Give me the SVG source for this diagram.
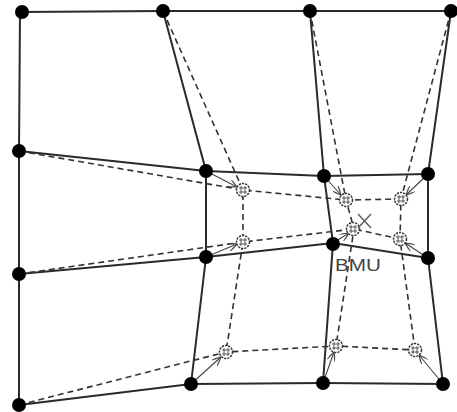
<svg xmlns="http://www.w3.org/2000/svg" width="457" height="412" viewBox="0 0 457 412">
<style>
.s{stroke:#2a2a2a;stroke-width:2;fill:none}
.d{stroke:#333;stroke-width:1.6;fill:none;stroke-dasharray:6 4}
.a{stroke:#444;stroke-width:1.1;fill:none;marker-end:url(#ah)}
.n{fill:#000}
.h{fill:#fff;stroke:#333;stroke-width:1.5;stroke-dasharray:2.2 1}
.hx{stroke:#555;stroke-width:1;fill:none}
.t{font-family:"Liberation Sans",Arial,sans-serif;font-size:17px;fill:#444}
</style>
<defs>
<marker id="ah" viewBox="0 0 10 8" refX="9" refY="4" markerWidth="10" markerHeight="8" markerUnits="userSpaceOnUse" orient="auto">
<path d="M0,0 L9,4 L0,8 M3,1 L9,4 L3,7" fill="none" stroke="#444" stroke-width="1"/>
</marker>
<g id="hn"><circle r="6.5" class="h"/><path class="hx" d="M-4,-2 H4 M-4,2 H4 M-2,-4 V4 M2,-4 V4"/></g>
</defs>
<rect width="457" height="412" fill="#fff"/>
<g id="connectors">
<polyline class="s" points="22,12 163,11 310,11 451,11"/>
<polyline class="s" points="19,151 206,171 324,176 428,174"/>
<polyline class="s" points="19,274 206,257 333,243 428,258"/>
<polyline class="s" points="19,405 191,384 323,383 443,384"/>
<polyline class="s" points="20,12 19,151 19,274 19,405"/>
<polyline class="s" points="163,11 206,171 206,257 191,384"/>
<polyline class="s" points="310,11 324,176 333,243 323,383"/>
<polyline class="s" points="451,11 428,174 428,258 443,384"/>
<polyline class="d" points="19,151 243,190 346,200 401,199"/>
<polyline class="d" points="19,274 243,242 354,229 400,239"/>
<polyline class="d" points="19,405 226,352 336,346 415,350"/>
<polyline class="d" points="163,11 243,190 243,242 226,352"/>
<polyline class="d" points="310,11 346,200 354,229 336,346"/>
<polyline class="d" points="451,11 401,199 400,239 415,350"/>
<line class="a" x1="206" y1="171" x2="237" y2="187"/>
<line class="a" x1="324" y1="176" x2="341" y2="195"/>
<line class="a" x1="428" y1="174" x2="406" y2="195"/>
<line class="a" x1="206" y1="257" x2="237" y2="244"/>
<line class="a" x1="333" y1="243" x2="349" y2="233"/>
<line class="a" x1="428" y1="258" x2="405" y2="243"/>
<line class="a" x1="191" y1="384" x2="221" y2="357"/>
<line class="a" x1="323" y1="383" x2="334" y2="352"/>
<line class="a" x1="443" y1="384" x2="419" y2="355"/>
</g>
<g id="old-nodes">
<circle id="n00" class="n" cx="22" cy="12" r="7"/>
<circle id="n01" class="n" cx="163" cy="11" r="7"/>
<circle id="n02" class="n" cx="310" cy="11" r="7"/>
<circle id="n03" class="n" cx="451" cy="11" r="7"/>
<circle id="n10" class="n" cx="19" cy="151" r="7"/>
<circle id="n11" class="n" cx="206" cy="171" r="7"/>
<circle id="n12" class="n" cx="324" cy="176" r="7"/>
<circle id="n13" class="n" cx="428" cy="174" r="7"/>
<circle id="n20" class="n" cx="19" cy="274" r="7"/>
<circle id="n21" class="n" cx="206" cy="257" r="7"/>
<circle id="n22" class="n" cx="333" cy="244" r="7"/>
<circle id="n23" class="n" cx="428" cy="258" r="7"/>
<circle id="n30" class="n" cx="19" cy="405" r="7"/>
<circle id="n31" class="n" cx="191" cy="384" r="7"/>
<circle id="n32" class="n" cx="323" cy="383" r="7"/>
<circle id="n33" class="n" cx="443" cy="384" r="7"/>
</g>
<g id="new-nodes">
<use id="m11" href="#hn" x="243" y="190"/>
<use id="m12" href="#hn" x="346" y="200"/>
<use id="m13" href="#hn" x="401" y="199"/>
<use id="m21" href="#hn" x="243" y="242"/>
<use id="m22" href="#hn" x="353" y="229"/>
<use id="m23" href="#hn" x="400" y="239"/>
<use id="m31" href="#hn" x="226" y="352"/>
<use id="m32" href="#hn" x="336" y="346"/>
<use id="m33" href="#hn" x="415" y="350"/>
</g>
<g id="input-x">
<path d="M358,214 L371,228 M371,214 L358,228" stroke="#555" stroke-width="1.3" fill="none"/>
</g>
<g id="bmu-label">
<text class="t" x="335" y="271" textLength="46" lengthAdjust="spacingAndGlyphs">BMU</text>
</g>
</svg>
